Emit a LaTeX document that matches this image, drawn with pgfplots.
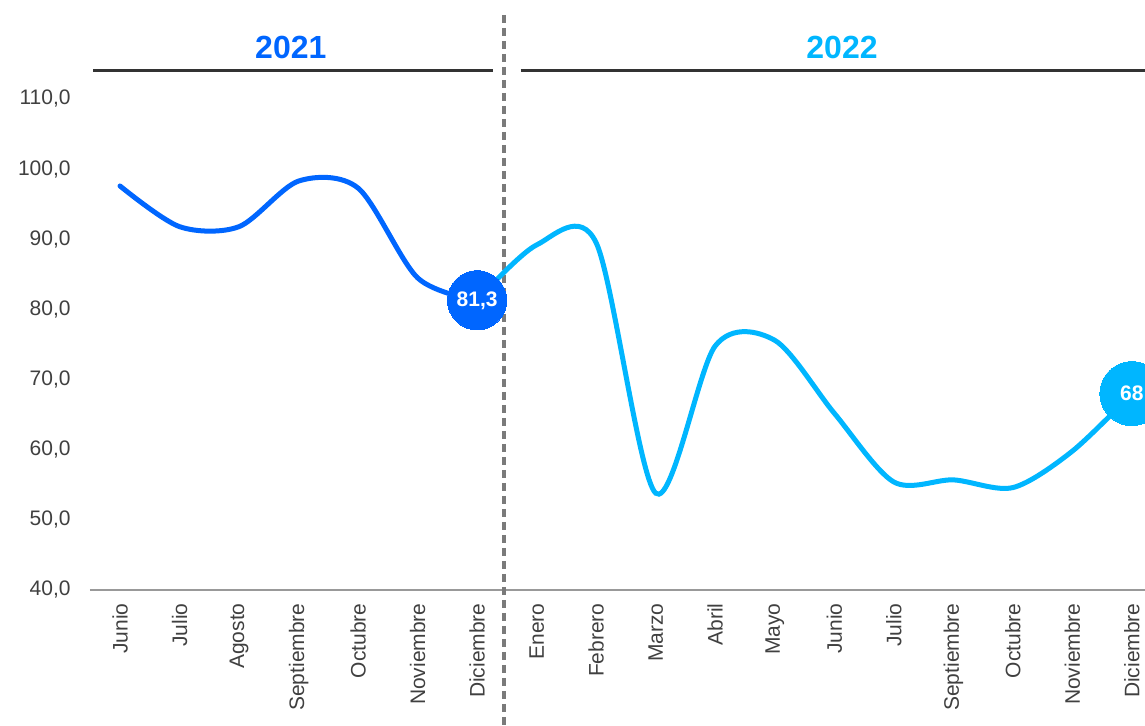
\documentclass[border=0pt]{standalone}
\usepackage{fontspec}
\setmainfont{Liberation Sans}
\usepackage{pgfplots}
\pgfplotsset{compat=1.18}
\definecolor{blueA}{HTML}{0066FF}
\definecolor{blueB}{HTML}{00B6FF}
\definecolor{ticktxt}{HTML}{404040}
\definecolor{sepgray}{HTML}{7A7A7A}
\begin{document}
\begin{tikzpicture}
\begin{axis}[
  at={(0,0)}, anchor=south west,
  scale only axis, width=527.5pt, height=245.5pt,
  xmin=-0.504, xmax=17.22, ymin=40, ymax=110,
  axis x line=bottom, axis y line=left,
  x axis line style={-, draw=black!40, line width=0.6pt},
  y axis line style={draw=none},
  major tick length=0pt,
  xtick={0,...,17},
  xticklabels={Junio,Julio,Agosto,Septiembre,Octubre,Noviembre,Diciembre,Enero,Febrero,Marzo,Abril,Mayo,Junio,Julio,Septiembre,Octubre,Noviembre,Diciembre},
  xticklabel style={rotate=90, anchor=east, inner sep=0pt, font=\fontsize{10.5pt}{12pt}\selectfont, text=ticktxt},
  xticklabel shift=6.5pt,
  ytick={40,50,...,110},
  yticklabel style={anchor=east, inner sep=0pt, font=\fontsize{10.5pt}{12pt}\selectfont, text=ticktxt, /pgf/number format/fixed, /pgf/number format/fixed zerofill, /pgf/number format/precision=1, /pgf/number format/use comma, /pgf/number format/assume math mode=true},
  yticklabel shift=9.5pt,
  clip=false,
]
% separator and headers
\draw[sepgray, line width=2pt, dash pattern=on 4pt off 2.5pt] (axis cs:6.443,122) -- (axis cs:6.443,20.6);
\draw[black!80, line width=1.5pt] (axis cs:-0.453,114.1) -- (axis cs:6.26,114.1);
\draw[black!80, line width=1.5pt] (axis cs:6.73,114.1) -- (axis cs:17.4,114.1);
\node[text=blueA, font=\fontsize{16pt}{18pt}\selectfont\bfseries] at (axis cs:2.87,117.4) {2021};
\node[text=blueB, font=\fontsize{16pt}{18pt}\selectfont\bfseries] at (axis cs:12.13,117.4) {2022};
% 2022 series
\addplot[blueB, line width=2.5pt, smooth, no markers] coordinates {
 (6,81.3) (7,89.2) (8,89.5) (9,53.8) (10,74.8) (11,75.6) (12,65.2) (13,55.4) (14,55.7) (15,54.6) (16,59.8) (17,68.0)};
% 2021 series
\addplot[blueA, line width=2.5pt, smooth, no markers, line cap=round] coordinates {
 (0,97.6) (1,91.8) (2,91.8) (3,98.3) (4,97.3) (5,84.5) (6,81.3)};
% end markers
\addplot[blueA, only marks, mark=*, mark size=14.8pt, mark options={solid, draw=blueA, fill=blueA, line width=0pt},
  nodes near coords={81,3},
  every node near coord/.style={anchor=center, text=white, font=\fontsize{10.5pt}{12pt}\selectfont\bfseries}]
  coordinates {(6,81.3)};
\addplot[blueB, only marks, mark=*, mark size=16pt, mark options={solid, draw=blueB, fill=blueB, line width=0pt},
  nodes near coords={68},
  every node near coord/.style={anchor=center, text=white, font=\fontsize{10.5pt}{12pt}\selectfont\bfseries}]
  coordinates {(17,68)};
\end{axis}
\pgfresetboundingbox
\useasboundingbox (-45pt,-68pt) rectangle (527.5pt,295pt);
\end{tikzpicture}
\end{document}
